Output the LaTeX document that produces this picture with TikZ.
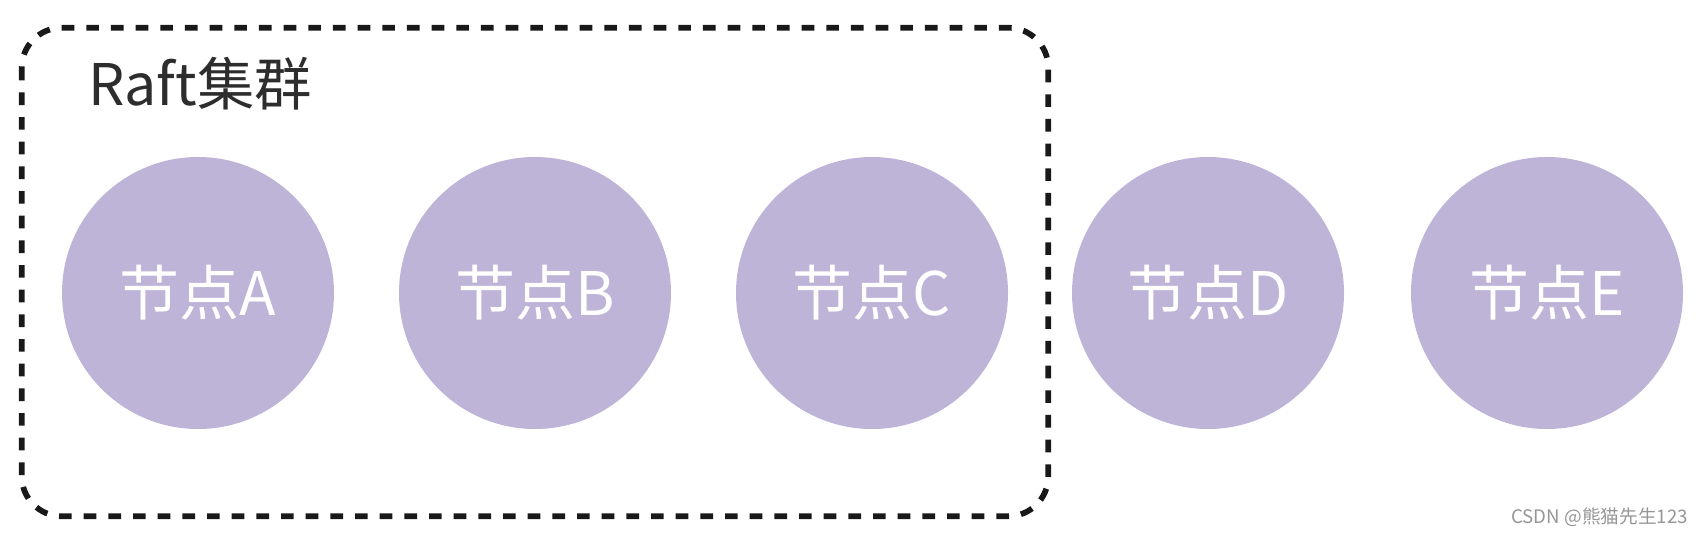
\documentclass[tikz,border=0pt]{standalone}
\usepackage{fontspec}
\setmainfont{Noto Sans CJK SC}
\newfontfamily\cjk{Noto Sans CJK SC}
\newfontfamily\cjklight{Noto Sans CJK SC}
\definecolor{nodefill}{RGB}{190,180,216}
\definecolor{titlegray}{RGB}{45,45,45}
\definecolor{markgray}{RGB}{150,150,150}
\tikzset{
  raftnode/.style={circle, fill=nodefill, draw=none, minimum size=272*0.75pt, inner sep=0pt,
    text=white, font=\cjk\fontsize{45}{50}\selectfont},
  clusterbox/.style={draw=black!90, line width=4.3pt, dash pattern=on 9.5pt off 9pt, rounded corners=30pt},
}
\begin{document}
\begin{tikzpicture}[x=0.75pt, y=-0.75pt]
\useasboundingbox (0,0) rectangle (1702,536);
\node[draw=none, inner sep=0pt, minimum width=1026*0.75pt, minimum height=488*0.75pt] (box) at (535,272) {};
\draw[clusterbox] (box.north west) rectangle (box.south east);
\node[anchor=west, text=titlegray, font=\cjk\fontsize{43}{48}\selectfont, inner sep=0pt] (title) at (88,84) {Raft集群};
\node[raftnode] (A) at (198,293) {节点A};
\node[raftnode] (B) at (535,293) {节点B};
\node[raftnode] (C) at (872,293) {节点C};
\node[raftnode] (D) at (1208,293) {节点D};
\node[raftnode] (E) at (1547,293) {节点E};
\node[anchor=east, text=markgray, font=\cjklight\fontsize{14}{16}\selectfont, inner sep=0pt] (mark) at (1688,517) {CSDN @熊猫先生123};
\end{tikzpicture}
\end{document}
